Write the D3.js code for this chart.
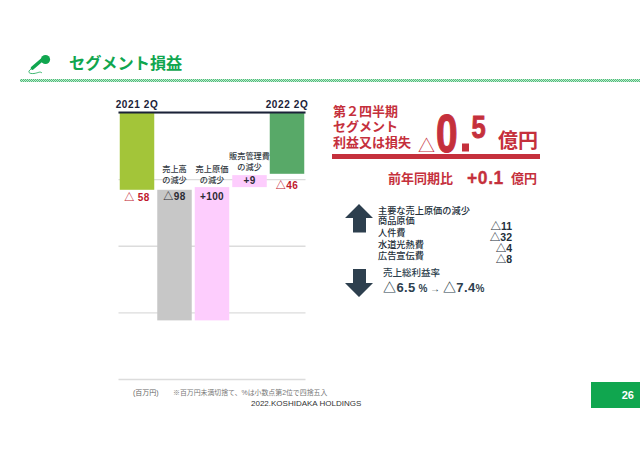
<!DOCTYPE html>
<html>
<head>
<meta charset="utf-8">
<script src="https://cdn.jsdelivr.net/npm/d3@7"></script>
<style>
  html, body { margin: 0; padding: 0; background: #fff; }
  text { font-family: "Liberation Sans", "Noto Sans CJK JP", sans-serif; }
</style>
</head>
<body>
<svg id="chart" width="640" height="454"></svg>
<script>
var categories = ['2021 2Q', 'sales', 'cost', 'sga', '2022 2Q'];
var kinds = ['total', 'delta', 'delta', 'delta', 'total'];
var values = [-58, -98, 100, 9, -46];
var valueLabels = ['△ 58', '△98', '+100', '+9', '△46'];
var barColors = ['#a3c539', '#c7c7c7', '#fdcdfd', '#fdcdfd', '#58a968'];
var gridTicks = [0, -50, -100, -150, -200];
var stepLabels = [[], ['売上高', 'の減少'], ['売上原価', 'の減少'], ['販売管理費', 'の減少'], []];

var costNames = ['商品原価', '人件費', '水道光熱費', '広告宣伝費'];
var costValues = ['△11', '△32', '△4', '△8'];

var green = '#10a64f';
var red = '#c5303c';
var navy = '#2d3f4e';

var svg = d3.select('#chart');

// title
var defs = svg.append('defs');
var dots = defs.append('pattern')
  .attr('id', 'dots').attr('width', 2).attr('height', 2)
  .attr('patternUnits', 'userSpaceOnUse');
dots.append('rect').attr('width', 2).attr('height', 2).attr('fill', '#c4e8d0');
dots.append('rect').attr('width', 1).attr('height', 1).attr('fill', '#4cbf7a');
dots.append('rect').attr('x', 1).attr('y', 1).attr('width', 1).attr('height', 1).attr('fill', '#4cbf7a');

svg.append('rect').attr('x', 20).attr('y', 79).attr('width', 620).attr('height', 3).attr('fill', 'url(#dots)');

var mic = svg.append('g');
mic.append('path').attr('d', 'M32.5 68 L43 59').attr('stroke', green).attr('stroke-width', 3.6).attr('stroke-linecap', 'round');
mic.append('circle').attr('cx', 45.5).attr('cy', 59.5).attr('r', 4.6).attr('fill', green);
mic.append('path').attr('d', 'M31 69 C27 72 29 74 34 73.5 C38 73 40 71 42 73')
  .attr('fill', 'none').attr('stroke', green).attr('stroke-width', 0.8);

svg.append('text').attr('x', 69).attr('y', 69)
  .attr('font-size', 16.2).attr('font-weight', 700).attr('fill', green)
  .text('セグメント損益');

// waterfall
var x = d3.scaleBand()
  .domain(categories)
  .range([119, 305])
  .paddingInner(0.08)
  .paddingOuter(0.02);

var y = d3.scaleLinear()
  .domain([0, -200])
  .range([112.5, 379]);

var grid = d3.axisLeft(y)
  .tickValues(gridTicks)
  .tickSize(-187)
  .tickFormat('');

var gridG = svg.append('g')
  .attr('transform', 'translate(118.5, 0)')
  .call(grid);
gridG.select('.domain').remove();
gridG.selectAll('line').attr('stroke', '#dcdcdc').attr('stroke-width', 1.4);

var running = 0;
var bars = categories.map((c, i) => {
  var start = kinds[i] === 'total' ? 0 : running;
  var end = kinds[i] === 'total' ? values[i] : running + values[i];
  running = end;
  return { name: c, i: i, top: Math.max(start, end), bottom: Math.min(start, end) };
});

svg.selectAll('.bar')
  .data(bars)
  .enter().append('rect')
    .attr('class', 'bar')
    .attr('x', d => x(d.name))
    .attr('y', d => y(d.top))
    .attr('width', x.bandwidth())
    .attr('height', d => y(d.bottom) - y(d.top))
    .attr('fill', d => barColors[d.i]);

svg.append('line')
  .attr('x1', 118.5).attr('x2', 305.5)
  .attr('y1', y(0)).attr('y2', y(0))
  .attr('stroke', '#1b2238').attr('stroke-width', 1.8);

var cx = name => x(name) + x.bandwidth() / 2;

svg.selectAll('.end-label')
  .data([categories[0], categories[4]])
  .enter().append('text')
    .attr('class', 'end-label')
    .attr('x', d => cx(d))
    .attr('y', 107.5)
    .attr('text-anchor', 'middle')
    .attr('font-size', 10).attr('font-weight', 700).attr('letter-spacing', 0.6).attr('fill', '#1b2238')
    .text(d => d);

// value labels, offset from the bar ends
var labelY = [d => y(d.bottom) + 11, d => y(d.top) + 10, d => y(d.top) + 13, d => y(d.top) + 9, d => y(d.bottom) + 15];
svg.selectAll('.value-label')
  .data(bars)
  .enter().append('text')
    .attr('class', 'value-label')
    .attr('x', d => cx(d.name))
    .attr('y', d => labelY[d.i](d))
    .attr('text-anchor', 'middle')
    .attr('font-size', 10).attr('font-weight', 700).attr('letter-spacing', 0.4)
    .attr('fill', d => d.i === 0 || d.i === 4 ? '#c0172c' : '#2b2b33')
    .text(d => valueLabels[d.i]);

bars.forEach(d => {
  stepLabels[d.i].forEach((t, j) => {
    svg.append('text')
      .attr('x', cx(d.name))
      .attr('y', y(d.top) - 16.5 + j * 11 + (d.i === 1 ? -1.5 : 0) + (d.i === 2 ? 1 : 0) + (d.i === 3 ? 0.5 : 0))
      .attr('text-anchor', 'middle')
      .attr('font-size', 8.2).attr('font-weight', 500).attr('fill', '#333a42')
      .text(t);
  });
});

svg.append('text').attr('x', 133).attr('y', 394.5).attr('font-size', 7).attr('fill', '#666').text('(百万円)');
svg.append('text').attr('x', 173).attr('y', 395).attr('font-size', 6.9).attr('fill', '#777').text('※百万円未満切捨て、%は小数点第2位で四捨五入');
svg.append('text').attr('x', 251).attr('y', 406).attr('font-size', 8).attr('fill', '#333').text('2022.KOSHIDAKA HOLDINGS');

// headline panel
['第２四半期', 'セグメント', '利益又は損失'].forEach((t, i) => {
  svg.append('text').attr('x', 333).attr('y', 115.5 + i * 15.8)
    .attr('font-size', 13).attr('font-weight', 700).attr('fill', red).text(t);
});
svg.append('text').attr('x', 418).attr('y', 152).attr('font-size', 17).attr('fill', red).text('△');
svg.append('text').attr('transform', 'translate(436, 152) scale(0.72, 1)')
  .attr('font-size', 54).attr('font-weight', 700).attr('fill', red)
  .attr('stroke', red).attr('stroke-width', 1.2).text('0');
svg.append('rect').attr('x', 462).attr('y', 143.5).attr('width', 7).attr('height', 8).attr('fill', red);
svg.append('text').attr('transform', 'translate(471.5, 138) scale(0.8, 1)')
  .attr('font-size', 32).attr('font-weight', 700).attr('fill', red)
  .attr('stroke', red).attr('stroke-width', 0.9).text('5');
svg.append('text').attr('x', 498).attr('y', 148)
  .attr('font-size', 20).attr('font-weight', 700).attr('fill', red).text('億円');
svg.append('rect').attr('x', 332).attr('y', 154).attr('width', 208).attr('height', 5).attr('fill', red);

svg.append('text').attr('x', 388).attr('y', 183)
  .attr('font-size', 13).attr('font-weight', 700).attr('fill', red).text('前年同期比');
svg.append('text').attr('x', 467).attr('y', 184)
  .attr('font-size', 17.5).attr('font-weight', 700).attr('letter-spacing', 0.6).attr('fill', red)
  .attr('stroke', red).attr('stroke-width', 0.3).text('+0.1');
svg.append('text').attr('x', 511).attr('y', 183)
  .attr('font-size', 13).attr('font-weight', 700).attr('fill', red).text('億円');

// cost list
var arrowUp = 'M345 218 L359 204 L373 218 L366 218 L366 232.5 L353 232.5 L353 218 Z';
var arrowDown = 'M353 269 L366 269 L366 283 L373 283 L359 297 L345 283 L353 283 Z';
svg.append('path').attr('d', arrowUp).attr('fill', navy);
svg.append('path').attr('d', arrowDown).attr('fill', navy);

svg.append('text').attr('x', 378).attr('y', 213.5)
  .attr('font-size', 9.2).attr('font-weight', 500).attr('fill', '#24303a').text('主要な売上原価の減少');
costNames.forEach((t, i) => {
  svg.append('text').attr('x', 378).attr('y', 224 + i * 11.8)
    .attr('font-size', 9.2).attr('font-weight', 500).attr('fill', '#24303a').text(t);
});
costValues.forEach((t, i) => {
  svg.append('text').attr('x', 512).attr('y', 229.5 + i * 11.3)
    .attr('text-anchor', 'end').attr('font-size', 10.5).attr('font-weight', 700).attr('fill', '#24303a').text(t);
});

svg.append('text').attr('x', 383).attr('y', 276)
  .attr('font-size', 9.5).attr('font-weight', 500).attr('fill', navy).text('売上総利益率');
var rate = svg.append('text').attr('x', 383).attr('y', 292).attr('fill', navy).attr('font-weight', 700);
rate.append('tspan').attr('font-size', 13).attr('letter-spacing', 0.4).text('△6.5');
rate.append('tspan').attr('font-size', 10).text(' % → ');
rate.append('tspan').attr('font-size', 13).attr('letter-spacing', 0.4).text('△7.4');
rate.append('tspan').attr('font-size', 10).text('%');

// page number
svg.append('rect').attr('x', 591).attr('y', 382).attr('width', 49).attr('height', 26).attr('fill', green);
svg.append('text').attr('x', 634).attr('y', 398.5).attr('text-anchor', 'end')
  .attr('font-size', 11).attr('font-weight', 700).attr('fill', '#fff').text('26');
</script>
</body>
</html>
